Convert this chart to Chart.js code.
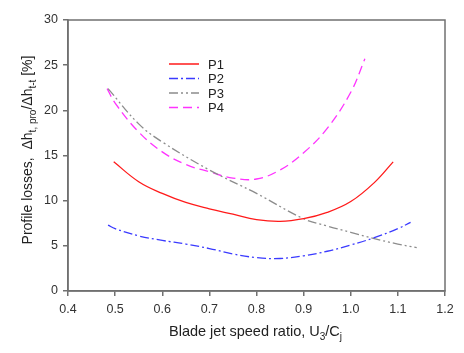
<!DOCTYPE html>
<html>
<head>
<meta charset="utf-8">
<script src="https://cdn.jsdelivr.net/npm/chart.js@4/dist/chart.umd.min.js"></script>
<style>
  html, body { margin: 0; padding: 0; background: #fff; }
  #wrap { width: 464px; height: 353px; }
</style>
</head>
<body>
<div id="wrap"><canvas id="chart"></canvas></div>
<script>
// values
const xP1 = [0.497, 0.55, 0.6, 0.65, 0.7, 0.75, 0.8, 0.85, 0.9, 0.95, 1.0, 1.05, 1.09];
const yP1 = [14.3, 12.1, 10.8, 9.8, 9.1, 8.5, 7.9, 7.7, 8.0, 8.7, 9.9, 12.0, 14.3];

const xP2 = [0.485, 0.5, 0.55, 0.6, 0.65, 0.7, 0.75, 0.8, 0.85, 0.9, 0.95, 1.0, 1.05, 1.1, 1.127];
const yP2 = [7.3, 6.9, 6.1, 5.6, 5.2, 4.7, 4.1, 3.7, 3.6, 3.9, 4.4, 5.1, 5.9, 6.9, 7.6];

const xP3 = [0.485, 0.55, 0.6, 0.7, 0.8, 0.9, 0.95, 1.0, 1.05, 1.1, 1.14];
const yP3 = [22.4, 18.5, 16.5, 13.4, 10.8, 8.0, 7.2, 6.5, 5.8, 5.2, 4.8];

const xP4 = [0.483, 0.5, 0.55, 0.6, 0.65, 0.7, 0.75, 0.8, 0.85, 0.9, 0.95, 1.0, 1.03];
const yP4 = [22.4, 20.8, 17.6, 15.4, 14.0, 13.2, 12.5, 12.4, 13.4, 15.3, 18.0, 22.0, 25.7];

const seriesNames = ['P1', 'P2', 'P3', 'P4'];
const xTicks = [0.4, 0.5, 0.6, 0.7, 0.8, 0.9, 1.0, 1.1, 1.2];
const yTicks = [0, 5, 10, 15, 20, 25, 30];

const FONT = 'Arial, "Liberation Sans", sans-serif';
const AXIS_COLOR = '#707070';

function pts(xs, ys) {
  return xs.map((x, i) => ({ x: x, y: ys[i] }));
}

const styles = [
  { color: '#ff1a1a', dash: [] },
  { color: '#3a3aff', dash: [9, 3, 2, 3] },
  { color: '#8c8c8c', dash: [9, 3, 2, 3, 2, 3] },
  { color: '#ff33ff', dash: [9, 5] }
];
const allData = [pts(xP1, yP1), pts(xP2, yP2), pts(xP3, yP3), pts(xP4, yP4)];

// draws text made of normal and subscript pieces
function richText(ctx, parts, x, y, size, align) {
  const subSize = Math.round(size * 0.72);
  let total = 0;
  parts.forEach(p => {
    ctx.font = (p.sub ? subSize : size) + 'px ' + FONT;
    total += ctx.measureText(p.t).width;
  });
  let cx = align === 'center' ? x - total / 2 : x;
  ctx.textAlign = 'left';
  ctx.textBaseline = 'alphabetic';
  parts.forEach(p => {
    ctx.font = (p.sub ? subSize : size) + 'px ' + FONT;
    ctx.fillText(p.t, cx, p.sub ? y + 4 : y);
    cx += ctx.measureText(p.t).width;
  });
}

const extras = {
  id: 'extras',
  afterDraw(chart) {
    const ctx = chart.ctx;
    const a = chart.chartArea;
    ctx.save();
    // frame
    ctx.strokeStyle = AXIS_COLOR;
    ctx.lineWidth = 1.5;
    ctx.strokeRect(a.left, a.top, a.right - a.left, a.bottom - a.top);

    // axis titles
    ctx.fillStyle = '#222';
    richText(ctx, [
      { t: 'Blade jet speed ratio, U' }, { t: '3', sub: true },
      { t: '/C' }, { t: 'j', sub: true }
    ], (a.left + a.right) / 2 - 1, 336, 14.5, 'center');

    ctx.save();
    ctx.translate(32, 150);
    ctx.rotate(-Math.PI / 2);
    richText(ctx, [
      { t: 'Profile losses,  \u0394h' }, { t: 't, pro', sub: true },
      { t: '/\u0394h' }, { t: 't-t', sub: true }, { t: ' [%]' }
    ], 0, 0, 14, 'center');
    ctx.restore();

    // legend
    const lx = 169, ly = 64, row = 14.5;
    chart.data.datasets.forEach((ds, i) => {
      const y = ly + i * row;
      ctx.strokeStyle = ds.borderColor;
      ctx.lineWidth = 1.5;
      ctx.setLineDash(ds.borderDash);
      ctx.beginPath();
      ctx.moveTo(lx, y);
      ctx.lineTo(lx + 30, y);
      ctx.stroke();
      ctx.setLineDash([]);
      ctx.fillStyle = '#222';
      ctx.font = '13px ' + FONT;
      ctx.textAlign = 'left';
      ctx.textBaseline = 'middle';
      ctx.fillText(ds.label, lx + 39, y + 1);
    });
    ctx.restore();
  }
};

const chart = new Chart(document.getElementById('chart'), {
  type: 'line',
  data: {
    datasets: seriesNames.map((name, i) => ({
      label: name,
      data: allData[i],
      borderColor: styles[i].color,
      borderDash: styles[i].dash,
      borderWidth: 1.3,
      pointRadius: 0,
      fill: false,
      tension: 0.4
    }))
  },
  options: {
    responsive: true,
    maintainAspectRatio: false,
    animation: false,
    layout: { padding: { top: 20, right: 19, left: 0, bottom: 0 } },
    plugins: { legend: { display: false }, tooltip: { enabled: false } },
    scales: {
      x: {
        type: 'linear',
        min: 0.4,
        max: 1.2,
        afterBuildTicks: s => { s.ticks = xTicks.map(v => ({ value: v })); },
        afterFit: s => { s.height = 62; },
        grid: { drawOnChartArea: false, drawTicks: true, tickLength: 5, color: AXIS_COLOR, lineWidth: 1.5 },
        border: { color: AXIS_COLOR, width: 1.5 },
        ticks: {
          color: '#333',
          font: { family: FONT, size: 12.5 },
          padding: 6,
          maxRotation: 0,
          callback: v => v.toFixed(1)
        }
      },
      y: {
        min: 0,
        max: 30,
        afterBuildTicks: s => { s.ticks = yTicks.map(v => ({ value: v })); },
        afterFit: s => { s.width = 68; },
        grid: { drawOnChartArea: false, drawTicks: true, tickLength: 5, color: AXIS_COLOR, lineWidth: 1.5 },
        border: { color: AXIS_COLOR, width: 1.5 },
        ticks: {
          color: '#333',
          font: { family: FONT, size: 12.5 },
          padding: 5
        }
      }
    }
  },
  plugins: [extras]
});
</script>
</body>
</html>
